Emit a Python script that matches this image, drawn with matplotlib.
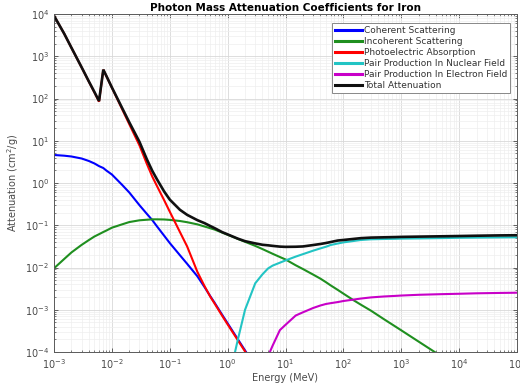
import numpy as np
import matplotlib
matplotlib.use("Agg")
import matplotlib.pyplot as plt
from matplotlib.ticker import LogLocator, NullFormatter

nan = np.nan

energy_mev = [0.001, 0.0015, 0.002, 0.003, 0.004, 0.005, 0.006, 0.007112, 0.008, 0.01,
              0.015, 0.02, 0.03, 0.04, 0.05, 0.06, 0.08, 0.1, 0.15, 0.2,
              0.3, 0.4, 0.5, 0.6, 0.8, 1.0, 1.25, 1.5, 2.0, 3.0,
              4.0, 5.0, 6.0, 8.0, 10.0, 15.0, 20.0, 30.0, 40.0, 50.0,
              60.0, 80.0, 100.0, 150.0, 200.0, 300.0, 500.0, 800.0, 1000.0, 2000.0,
              5000.0, 1e4, 2e4, 5e4, 1e5]

coherent = [4.6, 4.43, 4.24, 3.8, 3.32, 2.9, 2.51, 2.26, 1.98, 1.59,
            0.906, 0.596, 0.298, 0.1875, 0.132, 0.0944, 0.0566, 0.038, 0.0195, 0.0122,
            0.0062, 0.00342, 0.00211, 0.00144, 7.7e-4, 4.78e-4, 2.97e-4, 2.01e-4, 1.09e-4, 4.6e-5,
            nan, nan, nan, nan, nan, nan, nan, nan, nan, nan,
            nan, nan, nan, nan, nan, nan, nan, nan, nan, nan,
            nan, nan, nan, nan, nan]

incoherent = [0.00957, 0.0159, 0.0227, 0.0343, 0.0446, 0.0542, 0.0614, 0.0692, 0.0747, 0.0875,
              0.105, 0.119, 0.131, 0.135, 0.138, 0.138, 0.137, 0.134, 0.126, 0.118,
              0.105, 0.0933, 0.0851, 0.0788, 0.0673, 0.0594, 0.0527, 0.0475, 0.0406, 0.0325,
              0.0273, 0.0237, 0.0211, 0.0177, 0.0155, 0.0113, 0.0092, 0.0068, 0.00546, 0.00449,
              0.00379, 0.00295, 0.00241, 0.00168, 0.00132, 9.5e-4, 6.0e-4, 3.97e-4, 3.26e-4, 1.76e-4,
              7.8e-5, 4.2e-5, 2.2e-5, 9e-6, 4.6e-6]

photoelectric = [9085, 3420, 1590, 545, 251, 139, 84, 480, 344, 181,
                 56.4, 24.6, 7.73, 2.88, 1.41, 0.853, 0.392, 0.21, 0.069, 0.0314,
                 0.0079, 0.0036, 0.00205, 0.00138, 7.3e-4, 4.5e-4, 2.8e-4, 1.9e-4, 1.03e-4, 4.4e-5,
                 nan, nan, nan, nan, nan, nan, nan, nan, nan, nan,
                 nan, nan, nan, nan, nan, nan, nan, nan, nan, nan,
                 nan, nan, nan, nan, nan]

pair_nuclear = [nan, nan, nan, nan, nan, nan, nan, nan, nan, nan,
                nan, nan, nan, nan, nan, nan, nan, nan, nan, nan,
                nan, nan, nan, nan, nan, nan, 6.5e-5, 1.95e-4, 1.0e-3, 4.23e-3,
                6.9e-3, 9.5e-3, 0.0111, 0.0130, 0.0147, 0.0181, 0.0207, 0.025, 0.0283, 0.031,
                0.0340, 0.0370, 0.0393, 0.0424, 0.0448, 0.0465, 0.0473, 0.0478, 0.0483, 0.0488,
                0.0497, 0.0505, 0.051, 0.0515, 0.0519]

pair_electron = [nan, nan, nan, nan, nan, nan, nan, nan, nan, nan,
                 nan, nan, nan, nan, nan, nan, nan, nan, nan, nan,
                 nan, nan, nan, nan, nan, nan, nan, nan, nan, nan,
                 2.0e-5, 8.0e-5, 1.42e-4, 3.3e-4, 4.4e-4, 7.3e-4, 8.7e-4, 1.1e-3, 1.26e-3, 1.37e-3,
                 1.43e-3, 1.52e-3, 1.61e-3, 1.74e-3, 1.84e-3, 1.96e-3, 2.06e-3, 2.13e-3, 2.17e-3, 2.26e-3,
                 2.34e-3, 2.39e-3, 2.45e-3, 2.5e-3, 2.53e-3]

total = [9090, 3425, 1594, 549, 254, 142, 87, 482, 346, 183,
         60.0, 27.3, 9.4, 3.7, 1.93, 1.23, 0.63, 0.405, 0.232, 0.176,
         0.132, 0.112, 0.096, 0.085, 0.069, 0.0608, 0.0535, 0.0482, 0.0420, 0.0372,
         0.0345, 0.0335, 0.0325, 0.0312, 0.0308, 0.031, 0.0315, 0.034, 0.036, 0.038,
         0.040, 0.0435, 0.0448, 0.0475, 0.0495, 0.051, 0.0518, 0.0525, 0.053, 0.0538,
         0.0548, 0.0556, 0.0565, 0.0575, 0.058]

series_labels = ["Coherent Scattering", "Incoherent Scattering", "Photoelectric Absorption",
                 "Pair Production In Nuclear Field", "Pair Production In Electron Field",
                 "Total Attenuation"]
x_tick_values = [1e-3, 1e-2, 1e-1, 1e0, 1e1, 1e2, 1e3, 1e4, 1e5]
y_tick_values = [1e-4, 1e-3, 1e-2, 1e-1, 1e0, 1e1, 1e2, 1e3, 1e4]

colors = ["#0000ff", "#1f8f1f", "#ff0000", "#22c4c4", "#c800c8", "#101010"]
widths = [1.5, 1.5, 1.5, 1.5, 1.5, 1.9]

fig = plt.figure(figsize=(5.2, 3.92), dpi=100)
ax = fig.add_axes([54 / 520, 1 - 352 / 392, 463 / 520, 338 / 392])

E = np.array(energy_mev)
for vals, lab, c, lw in zip([coherent, incoherent, photoelectric, pair_nuclear, pair_electron, total],
                            series_labels, colors, widths):
    v = np.array(vals, dtype=float)
    ax.plot(E, v, color=c, lw=lw, label=lab, solid_joinstyle='miter')

ax.set_xscale('log')
ax.set_yscale('log')
ax.set_xlim(1e-3, 1e5)
ax.set_ylim(1e-4, 1e4)
ax.set_xticks(x_tick_values)
ax.set_yticks(y_tick_values)
ax.xaxis.set_minor_locator(LogLocator(base=10, subs=np.arange(2, 10), numticks=100))
ax.yaxis.set_minor_locator(LogLocator(base=10, subs=np.arange(2, 10), numticks=100))
ax.xaxis.set_minor_formatter(NullFormatter())
ax.yaxis.set_minor_formatter(NullFormatter())

ax.grid(True, which='major', color='#d8d8d8', lw=0.6)
ax.grid(True, which='minor', color='#eeeeee', lw=0.5)
ax.set_axisbelow(True)

tc = '#4a4a4a'
ax.tick_params(which='both', direction='in', top=True, right=True, colors=tc, labelsize=7)
ax.tick_params(which='major', length=3, width=0.6)
ax.tick_params(which='minor', length=1.6, width=0.5)
for s in ax.spines.values():
    s.set_color('#5a5a5a')
    s.set_linewidth(0.7)

ax.set_xlabel('Energy (MeV)', fontsize=7, color=tc, labelpad=2)
ax.set_ylabel('Attenuation (cm$^{2}$/g)', fontsize=7, color=tc, labelpad=3)
ax.set_title('Photon Mass Attenuation Coefficients for Iron', fontsize=7.5,
             fontweight='bold', pad=2)

leg = ax.legend(loc='upper right', bbox_to_anchor=(0.985, 0.972), fontsize=6.5,
                handlelength=3.0, handletextpad=0.2, labelspacing=0.22,
                borderpad=0.3, borderaxespad=0, fancybox=False, framealpha=1)
leg.get_frame().set_edgecolor('#888888')
leg.get_frame().set_linewidth(0.7)
for t in leg.get_texts():
    t.set_color('#333333')
for l in leg.get_lines():
    l.set_linewidth(2.2)

fig.savefig('out.png', dpi=100)
